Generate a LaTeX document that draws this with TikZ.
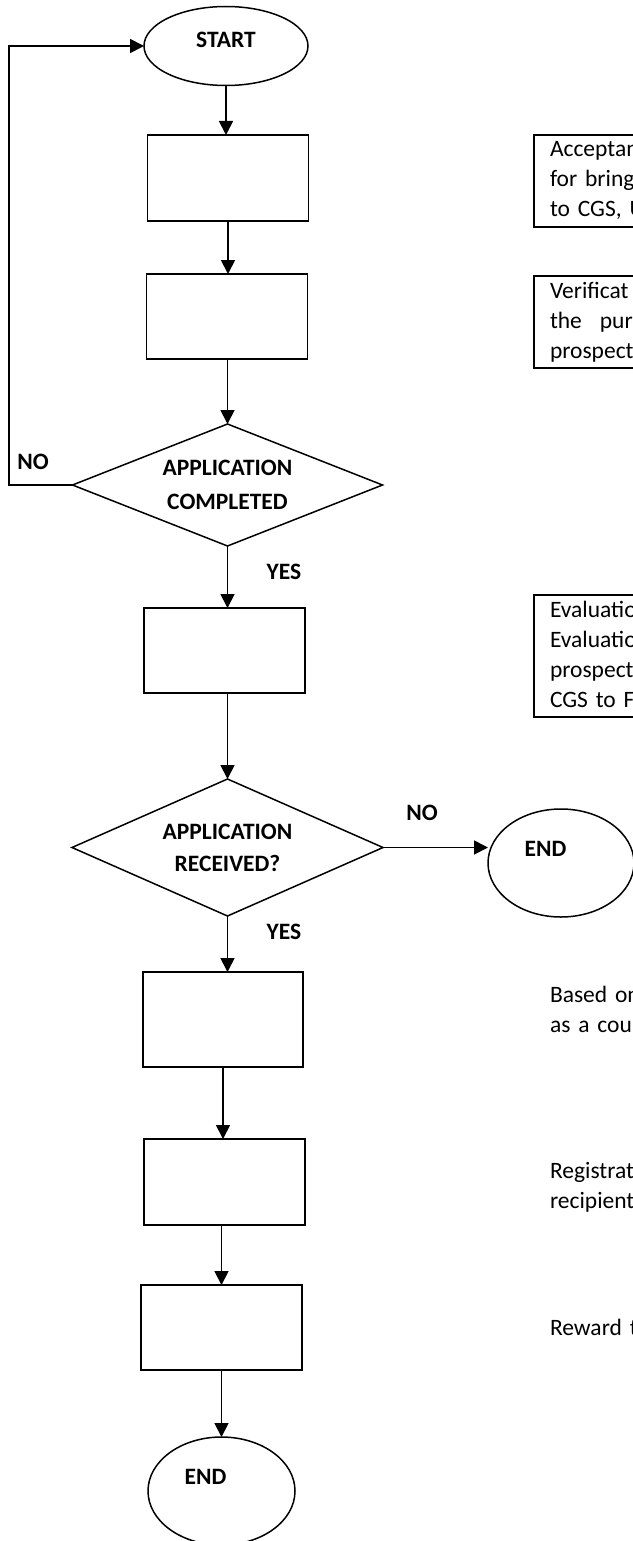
\documentclass[tikz,border=0pt]{standalone}
\usepackage{fontspec}
\setmainfont{Carlito}
\usetikzlibrary{shapes.geometric,arrows.meta}
\begin{document}
\begin{tikzpicture}[x=1pt,y=-1pt,
  every node/.style={inner sep=0pt,outer sep=0pt},
  proc/.style={draw,rectangle,line width=1.8pt,minimum width=161pt},
  term/.style={draw,ellipse,line width=1.5pt},
  dec/.style={draw,diamond,aspect=2.5,line width=1.5pt,align=center},
  arr/.style={line width=1.8pt,-{Triangle[length=14pt,width=14pt]}},
  lbl/.style={font=\bfseries\fontsize{23.5}{28}\selectfont},
  sidebox/.style={draw,line width=1.8pt,anchor=north west,text width=200pt,align=left,
    inner xsep=16pt,inner ysep=1pt,font=\fontsize{23.5}{30}\selectfont},
  note/.style={anchor=north west,text width=200pt,align=left,font=\fontsize{23.5}{30}\selectfont}]
\useasboundingbox (0,0) rectangle (632,1541);
\fill[white] (0,0) rectangle (632,1541);

% terminals
\node[term,minimum width=164pt,minimum height=79pt] (start) at (226,46) {};
\node[lbl] (startlbl) at (226,40) {START};
\node[term,minimum width=146pt,minimum height=108pt] (endR) at (561,863) {};
\node[lbl] (endRlbl) at (545.5,849) {END};
\node[term,minimum width=147pt,minimum height=108pt] (endB) at (221.5,1491) {};
\node[lbl] (endBlbl) at (205.5,1477) {END};

% process boxes
\node[proc,minimum height=86pt] (b1) at (228,178) {};
\node[proc,minimum height=85pt] (b2) at (227,316.5) {};
\node[proc,minimum height=85pt] (b3) at (224.5,650.5) {};
\node[proc,minimum width=160pt,minimum height=95pt] (b4) at (223,1019.5) {};
\node[proc,minimum height=86pt] (b5) at (224.5,1182) {};
\node[proc,minimum height=85pt] (b6) at (221.5,1327.5) {};

% decisions
\node[dec,minimum width=310pt,minimum height=122pt,font=\bfseries\fontsize{23.5}{34}\selectfont]
  (d1) at (227.5,485) {APPLICATION\\COMPLETED};
\node[dec,minimum width=311pt,minimum height=137pt,font=\bfseries\fontsize{23.5}{32}\selectfont]
  (d2) at (227.5,847.5) {APPLICATION\\RECEIVED?};

% connectors
\draw[arr] (start.south) -- (start.south |- b1.north);
\draw[arr] (b1.south) -- (b1.south |- b2.north);
\draw[arr] (b2.south -| d1.north) -- (d1.north);
\draw[arr] (d1.south) -- (d1.south |- b3.north);
\draw[arr] (b3.south -| d2.north) -- (d2.north);
\draw[arr] (d2.south) -- (d2.south |- b4.north);
\draw[arr] (b4.south) -- (b4.south |- b5.north);
\draw[arr] (b5.south -| b6.north) -- (b6.north);
\draw[arr] (b6.south) -- (endB.north);
\coordinate (loop) at (9,46);
\draw[arr] (d1.west) -| (loop) -- (start.west);
\draw[arr] (d2.east) -- (d2.east -| endR.west);

% branch labels
\node[lbl] (no1) at (33,462) {NO};
\node[lbl] (yes1) at (284,572) {YES};
\node[lbl] (no2) at (422,813) {NO};
\node[lbl] (yes2) at (284,932) {YES};

% side descriptions
\node[sidebox] (s1) at (534,135) {\strut Acceptan\\\strut for bring\\\strut to CGS, U};
\node[sidebox] (s2) at (534,276) {\strut Verificat\\\strut the\hspace{18pt}pur\\\strut prospect};
\node[sidebox] (s3) at (534,595) {\strut Evaluatio\\\strut Evaluatio\\\strut prospect\\\strut CGS to FA};
\node[note] (t4) at (550,981) {\strut Based on\\\strut as a cour};
\node[note] (t5) at (550,1157) {\strut Registrat\\\strut recipient};
\node[note] (t6) at (550,1314) {\strut Reward t};
\end{tikzpicture}
\end{document}
